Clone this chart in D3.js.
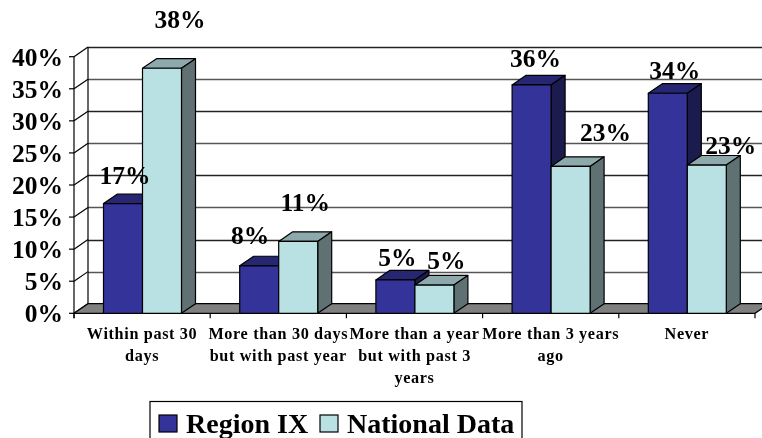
<!DOCTYPE html>
<html><head><meta charset="utf-8">
<script src="https://cdnjs.cloudflare.com/ajax/libs/d3/7.8.5/d3.min.js"></script>
<style>html,body{margin:0;padding:0;background:#fff;overflow:hidden}svg{display:block;filter:blur(0.35px)}text{font-family:"Liberation Serif",serif;font-weight:bold;fill:#000}</style>
</head><body><svg id="c" width="762" height="438"></svg>
<script>
const categories = ["Within past 30 days","More than 30 days but with past year","More than a year but with past 3 years","More than 3 years ago","Never"];
const categoryLines = [["Within past 30","days"],["More than 30 days","but with past year"],["More than a year","but with past 3","years"],["More than 3 years","ago"],["Never"]];
const seriesNames = ["Region IX","National Data"];
const regionIX = [17.1,7.4,5.2,35.6,34.3];
const nationalData = [38.2,11.2,4.4,22.9,23.1];
const regionLabels = ["17%","8%","5%","36%","34%"];
const nationalLabels = ["38%","11%","5%","23%","23%"];
const yTicks = [0,5,10,15,20,25,30,35,40];
// label nudges, relative to each bar's top centre
const regionNudge = [[2,-20],[-9,-22],[2,-14],[4,-18],[7,-14]];
const nationalNudge = [[18,-40],[7,-30],[12,-16],[35,-25],[24,-11]];

const svg = d3.select("#c");
const dx = 14, dy = -9.6;
const y = d3.scaleLinear().domain([0,40]).range([313.3,56.7]);
const x = d3.scaleBand().domain(categories).range([74,755]);
const inner = d3.scaleBand().domain(seriesNames).range([29.5,107.5]);
const colors = {
  "Region IX":{front:"#333399",top:"#262673",side:"#1b1b4d"},
  "National Data":{front:"#b9e0e3",top:"#8da9ac",side:"#5f7173"}
};
const poly = pts => pts.map(p=>p.join(",")).join(" ");
const xL = x.range()[0], xR = x.range()[1];

// Wall gridlines
const wall = svg.append("g");
yTicks.forEach((t,i)=>{
  const yy = Math.round(y(t)+dy)+0.5;
  wall.append("line").attr("x1",xL+dx).attr("x2",762).attr("y1",yy).attr("y2",yy)
    .attr("stroke",i%2?"#555":"#222").attr("stroke-width",1.5);
  wall.append("line").attr("x1",xL).attr("y1",y(t)).attr("x2",xL+dx).attr("y2",y(t)+dy)
    .attr("stroke","#000").attr("stroke-width",1.2);
  wall.append("line").attr("x1",xL-5).attr("x2",xL).attr("y1",y(t)).attr("y2",y(t))
    .attr("stroke","#000").attr("stroke-width",1.2);
});
wall.append("line").attr("x1",xL).attr("x2",xL).attr("y1",y(0)+5).attr("y2",y(40)).attr("stroke","#000").attr("stroke-width",1.2);
wall.append("line").attr("x1",xL+dx).attr("x2",xL+dx).attr("y1",y(0)+dy).attr("y2",y(40)+dy).attr("stroke","#000").attr("stroke-width",1.2);

// Floor
svg.append("polygon").attr("points",poly([[xL,y(0)],[xL+dx,y(0)+dy],[xR+dx,y(0)+dy],[xR,y(0)]]))
  .attr("fill","#808080").attr("stroke","#000").attr("stroke-width",1.2);
svg.selectAll(".xt").data(categories.concat([null])).enter().append("line")
  .attr("x1",(d,i)=>xL+i*x.bandwidth()).attr("x2",(d,i)=>xL+i*x.bandwidth())
  .attr("y1",y(0)).attr("y2",y(0)+5).attr("stroke","#000").attr("stroke-width",1.2);

// Bars
const series = [["Region IX",regionIX],["National Data",nationalData]];
categories.forEach((cat,ci)=>{
  series.forEach(([name,vals])=>{
    const c = colors[name];
    const x0 = x(cat)+inner(name), x1 = x0+inner.bandwidth();
    const yt = y(vals[ci]), yb = y(0);
    const g = svg.append("g").attr("stroke","#000").attr("stroke-width",1.2).attr("stroke-linejoin","round");
    g.append("polygon").attr("points",poly([[x0,yt],[x0+dx,yt+dy],[x1+dx,yt+dy],[x1,yt]])).attr("fill",c.top);
    g.append("polygon").attr("points",poly([[x1,yt],[x1+dx,yt+dy],[x1+dx,yb+dy],[x1,yb]])).attr("fill",c.side);
    g.append("rect").attr("x",x0).attr("y",yt).attr("width",x1-x0).attr("height",yb-yt).attr("fill",c.front);
  });
});

// Data labels
series.forEach(([name,vals],si)=>{
  const labs = si?nationalLabels:regionLabels, nudge = si?nationalNudge:regionNudge;
  categories.forEach((cat,ci)=>{
    svg.append("text").attr("text-anchor","middle").attr("font-size",25.5)
      .attr("x",x(cat)+inner(name)+inner.bandwidth()/2+nudge[ci][0])
      .attr("y",y(vals[ci])+nudge[ci][1]).text(labs[ci]);
  });
});

// Y tick labels
svg.selectAll(".yl").data(yTicks).enter().append("text")
  .attr("text-anchor","end").attr("font-size",25.5).attr("x",63).attr("y",d=>y(d)+9).text(d=>d+"%");

// Category labels
categories.forEach((cat,ci)=>{
  categoryLines[ci].forEach((ln,li)=>{
    svg.append("text").attr("text-anchor","middle").attr("font-size",16.2).attr("letter-spacing",0.65)
      .attr("x",x(cat)+x.bandwidth()/2).attr("y",339+li*22).text(ln);
  });
});

// Legend
svg.append("rect").attr("x",150).attr("y",401.5).attr("width",372).attr("height",60).attr("fill","#fff").attr("stroke","#000").attr("stroke-width",1.2);
const legendX = [159,320];
seriesNames.forEach((n,i)=>{
  svg.append("rect").attr("x",legendX[i]).attr("y",415).attr("width",18).attr("height",17).attr("fill",colors[n].front).attr("stroke","#000").attr("stroke-width",1.2);
  svg.append("text").attr("x",legendX[i]+27).attr("y",433).attr("font-size",28).text(n);
});
</script></body></html>
